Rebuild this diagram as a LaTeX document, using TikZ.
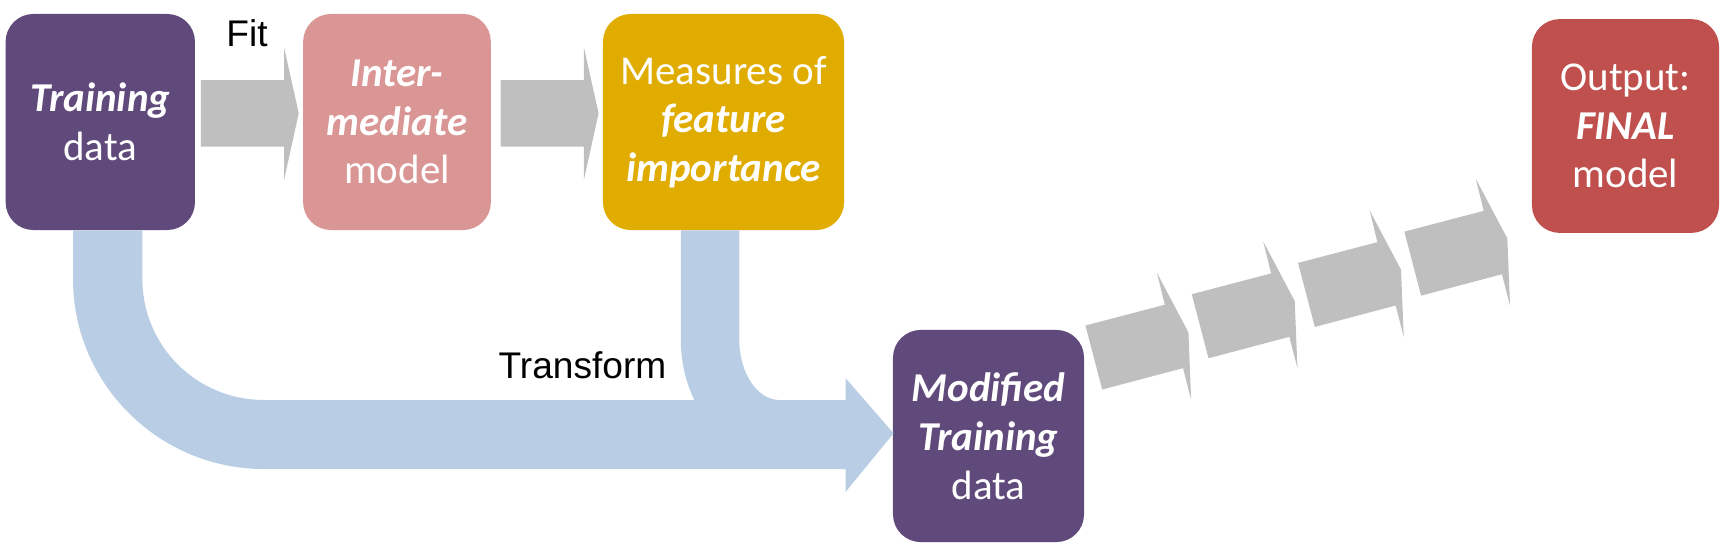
\documentclass[tikz,border=0pt]{standalone}
\usepackage{fontspec}
\setmainfont{Carlito}
\newfontfamily\arialfont{Liberation Sans}
\usepackage{xcolor}
\usetikzlibrary{calc}

\definecolor{trainpurple}{HTML}{604A7B}
\definecolor{interpink}{HTML}{D99694}
\definecolor{measgold}{HTML}{E0AC00}
\definecolor{finalred}{HTML}{C0504D}
\definecolor{arrowgray}{HTML}{BFBFBF}
\definecolor{transblue}{HTML}{B9CDE5}

\newcommand{\bfit}[1]{\textbf{\textit{#1}}}

\tikzset{
   box/.style={rectangle, rounded corners=0.5cm, inner sep=0pt, text=white, align=center,
      font=\fontsize{21}{25}\selectfont, minimum height=3.89cm},
   fitarrow/.style={fill=arrowgray},
   flowarrow/.style={fill=transblue},
   steplabel/.style={font=\arialfont\fontsize{19}{23}\selectfont, anchor=base}
}

\begin{document}
\begin{tikzpicture}[x=0.018cm,y=-0.018cm]
   \useasboundingbox (0,0) rectangle (1720,545);

   \node[box, fill=trainpurple, minimum width=3.41cm] (train) at (100.3,122) {\bfit{Training}\\data};
   \node[box, fill=interpink, minimum width=3.38cm] (inter) at (397,122) {\bfit{Inter-}\\\bfit{mediate}\\model};
   \node[box, fill=measgold, minimum width=4.34cm] (meas) at (723.5,122) {Measures of\\\bfit{feature}\\\bfit{importance}};
   \node[box, fill=finalred, minimum width=3.37cm, minimum height=3.85cm] (final) at (1625.5,126) {Output:\\\bfit{FINAL}\\model};
   \node[box, fill=trainpurple, minimum width=3.44cm, minimum height=3.82cm] (mod) at (988.5,436) {\bfit{Modified}\\\bfit{Training}\\data};

   \foreach \tgt in {inter,meas}
      \fill[fitarrow, shift={($(\tgt.west)+(-4,-8.7)$)}] (-98,-33.3) -- (-14.7,-33.3) -- (-14.7,-66) -- (0,0)
         -- (-14.7,66.7) -- (-14.7,33.4) -- (-98,33.4) -- cycle;

   \fill[flowarrow] ($(train.south)+(-27.3,0)$) -- (73,279) .. controls (73,384) and (159,469) .. (264,469)
      -- (845.7,469) -- (845.7,491.7) -- ($(mod.west)+(1,-2.7)$) -- (845.7,378.3) -- (845.7,400) -- (264,400)
      .. controls (196.6,400) and (142.4,346) .. (142.4,279) -- ($(train.south)+(42.1,0)$) -- cycle;
   \fill[flowarrow] ($(meas.south)+(-42.7,0)$) -- (680.8,340) .. controls (680.8,405.5) and (724.9,458.6) .. (779.4,458.6)
      -- (846,458.6) -- (846,400) -- (779.4,400) .. controls (757.3,400) and (739.3,373.1) .. (739.3,340)
      -- ($(meas.south)+(15.8,0)$) -- cycle;

   \foreach \i in {0,...,3}
      \fill[fitarrow, shift={($(mod.north east)+(\i*106.3,-\i*31.3)$)}] (1,-4) -- (80.4,-24.8) -- (72.5,-56.7)
         -- (104,2.8) -- (106.7,70) -- (98.6,38.6) -- (17.8,60) -- cycle;

   \node[steplabel] (fit) at (247,47) {Fit};
   \node[steplabel] (transform) at (582.5,378.3) {Transform};
\end{tikzpicture}
\end{document}
